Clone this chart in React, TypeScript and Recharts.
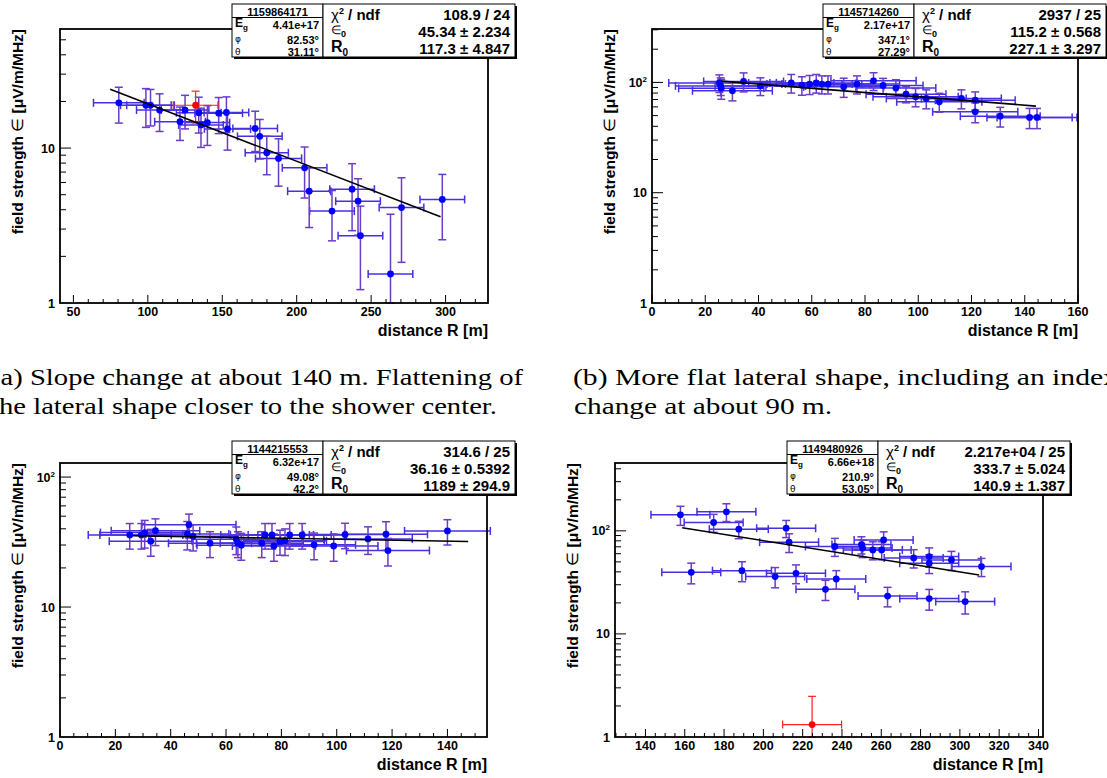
import React from 'react';
import { ScatterChart, Scatter, XAxis, YAxis, ErrorBar } from 'recharts';

const W = 1107;
const H = 778;
const SANS = '"Liberation Sans", Arial, Helvetica, sans-serif';
const SERIF = '"Liberation Serif", "Times New Roman", serif';
const GREEK = '"DejaVu Sans", "Liberation Sans", sans-serif';

// ---- (a) event 1159864171 ----
const aR = [80.5, 98.7, 101.8, 107.9, 121.6, 125.0, 134.2, 135.7, 140.0, 147.6, 152.8, 153.5, 172.1, 175.2, 179.9, 187.8, 205.3, 208.4, 223.7, 237.2, 241.2, 242.8, 263.0, 270.4, 297.8];
const aE = [19.6, 18.9, 18.9, 17.6, 14.8, 17.6, 16.9, 14.1, 14.6, 16.8, 17.0, 13.3, 13.4, 11.9, 9.33, 8.58, 7.46, 5.27, 3.92, 5.43, 4.54, 2.72, 1.54, 4.13, 4.66];
const aRErr = [17, 17, 16, 15.5, 17, 16, 15, 15, 15, 16, 15, 15.5, 15, 15, 14.5, 15.5, 15, 14.5, 15, 15, 15, 15, 15, 15, 15];
const aEErr = [5.1, 5.3, 5.0, 4.8, 3.6, 4.3, 4.4, 4.0, 4.2, 4.4, 4.4, 3.6, 3.9, 3.4, 2.6, 2.9, 2.7, 2.2, 1.4, 2.5, 1.8, 1.5, 2.2, 2.3, 2.1];
const aRedR = [132.1];
const aRedE = [18.9];
const aRedRErr = [15];
const aRedEErr = [4.4];
const aFitR = [74.7, 296.6];
const aFitE = [24.0, 3.6];

// ---- (b) event 1145714260 ----
const bR = [25.3, 25.8, 26.0, 30.2, 34.4, 40.7, 52.3, 56.3, 59.2, 61.7, 63.8, 66.1, 72.0, 77.0, 83.2, 86.8, 91.6, 95.4, 99.0, 103.0, 107.9, 116.2, 121.4, 121.4, 130.8, 141.8, 144.6];
const bE = [99, 93, 88.3, 84, 102, 93, 99, 94.5, 96.6, 99, 96.6, 96.6, 91.2, 96.6, 103.4, 93.8, 88.8, 78.3, 74.1, 71.6, 66.7, 71.6, 69, 54.1, 49.4, 48.1, 48.1];
const bRErr = [19, 17, 16, 15, 15, 17, 16, 15, 16, 15, 15, 16, 15, 16, 16, 15, 15, 15, 16, 15, 16, 15, 15, 16, 15, 16, 15];
const bEErr = [18, 17, 18, 16, 20, 17, 19, 18, 19, 19, 18, 18, 18, 18, 19, 15, 17, 13, 14, 14, 13, 14, 13, 11, 10, 10, 10];
const bFitR = [26.1, 144.2];
const bFitE = [102.7, 61.0];

// ---- (c) event 1144215553 ----
const cR = [25.2, 29.4, 30.6, 32.8, 34.5, 46.0, 46.6, 48.1, 54.2, 63.7, 64.3, 65.5, 72.9, 74.1, 76.6, 77.3, 79.5, 81.3, 83.0, 87.5, 91.8, 98.9, 103.0, 111.3, 117.8, 118.5, 140.0];
const cE = [35.9, 35.9, 37.4, 32.1, 38.7, 36.5, 42.9, 35.0, 31.0, 33.3, 31.0, 29.9, 31.0, 35.9, 35.9, 29.5, 32.0, 32.4, 35.9, 35.9, 30.1, 29.5, 36.1, 33.4, 36.3, 27.2, 38.5];
const cRErr = [15, 15, 16, 15, 16, 15, 17, 16, 15, 16, 15, 16, 15, 16, 15, 15, 16, 15, 15, 16, 15, 16, 15, 16, 15, 15, 15.5];
const cEErr = [8, 8, 9, 7.5, 9, 9, 9, 8, 7, 8, 7, 7, 7, 8, 8, 7, 7, 7.5, 8, 8, 7, 7, 8, 8, 9, 6.5, 8.5];
const cFitR = [26.4, 147.5];
const cFitE = [35.4, 31.9];

// ---- (d) event 1149480926 ----
const dR = [157.8, 163.3, 174.7, 181.2, 187.5, 189.1, 206.0, 211.6, 213.1, 216.6, 231.6, 236.4, 237.1, 249.9, 250.5, 255.7, 260.2, 261.2, 263.2, 276.5, 284.4, 284.4, 284.4, 295.7, 302.7, 311.0];
const dE = [143, 39.6, 120.5, 153, 103.8, 41.1, 36, 106, 77.6, 38.7, 27.1, 70.5, 34.1, 73.6, 68, 65.3, 65.3, 81.7, 23.3, 54.6, 56.3, 48.5, 22, 52.2, 20.6, 45];
const dRErr = [15, 15, 15, 15, 15, 15, 15, 15, 15, 15, 15, 15, 15, 15, 15, 15, 15, 15, 15, 15, 15, 15, 15, 15, 15, 15];
const dEErr = [30, 9, 24, 30, 20, 9, 8, 20, 16, 8, 6, 14, 7, 14, 13, 13, 13, 16, 5, 11, 12, 10, 5, 11, 5, 9];
const dRedR = [224.8];
const dRedE = [1.32];
const dRedRErr = [15];
const dRedEErr = [1.16];
const dFitR = [158.7, 309.8];
const dFitE = [107, 37.3];

// stats boxes
const aStats = { id: '1159864171', eg: '4.41e+17', phi: '82.53°', theta: '31.11°', chi: '108.9 / 24', eps: '45.34 ± 2.234', r0: '117.3 ± 4.847' };
const bStats = { id: '1145714260', eg: '2.17e+17', phi: '347.1°', theta: '27.29°', chi: '2937 / 25', eps: '115.2 ± 0.568', r0: '227.1 ± 3.297' };
const cStats = { id: '1144215553', eg: '6.32e+17', phi: '49.08°', theta: '42.2°', chi: '314.6 / 25', eps: '36.16 ± 0.5392', r0: '1189 ± 294.9' };
const dStats = { id: '1149480926', eg: '6.66e+18', phi: '210.9°', theta: '53.05°', chi: '2.217e+04 / 25', eps: '333.7 ± 5.024', r0: '140.9 ± 1.387' };

const range = (a: number, b: number, s: number) => {
  const out: number[] = [];
  for (let v = a; v <= b + 1e-9; v += s) out.push(v);
  return out;
};
const LOG_TICKS = [1, 2, 3, 4, 5, 6, 7, 8, 9, 10, 20, 30, 40, 50, 60, 70, 80, 90, 100, 200, 300, 400];

const toPts = (r: number[], e: number[], rErr: number[], eErr: number[]) =>
  r.map((x, i) => ({
    x,
    y: e[i],
    ex: rErr[i],
    // bars that would run under the axis stop at the frame
    ey: e[i] - eErr[i] <= 1 ? [e[i] - 1, eErr[i]] : eErr[i],
  }));
const toLine = (r: number[], e: number[]) => r.map((x, i) => ({ x, y: e[i] }));

type Rect = { x: number; y: number; w: number; h: number };

const makeXTick = (majors: number[]) => (p: any) => {
  const { x, y, payload } = p;
  const v = payload.value;
  const major = majors.includes(v);
  return (
    <g>
      <line x1={x} x2={x} y1={y} y2={y - (major ? 8 : 4)} stroke="#000" strokeWidth={1} />
      {major && (
        <text x={x} y={y + 13} textAnchor="middle" fontFamily={SANS} fontWeight="bold" fontSize={12.5} fill="#000">
          {v}
        </text>
      )}
    </g>
  );
};

const YTick = (p: any) => {
  const { x, y, payload } = p;
  const v = payload.value;
  const major = v === 10 || v === 100;
  const t = { x: x - 5, y: y + 4.5, textAnchor: 'end' as const, fontFamily: SANS, fontWeight: 'bold', fontSize: 12.5, fill: '#000' };
  return (
    <g>
      {v !== 1 && <line x1={x} x2={x + (major ? 11 : 6)} y1={y} y2={y} stroke="#000" strokeWidth={1} />}
      {v === 1 && <text {...t}>1</text>}
      {v === 10 && <text {...t}>10</text>}
      {v === 100 && (
        <text {...t}>
          10<tspan dy={-5} fontSize={8}>2</tspan>
        </text>
      )}
    </g>
  );
};

const Dot = (color: string) => (p: any) => <circle cx={p.cx} cy={p.cy} r={3.4} fill={color} />;

function Panel(props: {
  plot: Rect;
  xDomain: [number, number];
  yDomain: [number, number];
  xTicks: number[];
  xMajor: number[];
  pts: any[];
  red?: any[];
  fit: any[];
}) {
  const { plot, xDomain, yDomain, xTicks, xMajor, pts, red, fit } = props;
  const yTicks = LOG_TICKS.filter((v) => v <= yDomain[1]);
  return (
    <div style={{ position: 'absolute', left: 0, top: 0 }}>
      <ScatterChart
        width={W}
        height={H}
        margin={{ top: plot.y, left: plot.x - 1, right: W - plot.x - plot.w, bottom: H - plot.y - plot.h - 1 }}
      >
        <XAxis
          type="number"
          dataKey="x"
          domain={xDomain}
          allowDataOverflow
          ticks={xTicks}
          interval={0}
          tick={makeXTick(xMajor)}
          tickLine={false}
          axisLine={false}
          tickSize={0}
          tickMargin={0}
          height={1}
        />
        <YAxis
          type="number"
          dataKey="y"
          scale="log"
          domain={yDomain}
          allowDataOverflow
          ticks={yTicks}
          interval={0}
          tick={YTick}
          tickLine={false}
          axisLine={false}
          tickSize={0}
          tickMargin={0}
          width={1}
        />
        <Scatter data={pts} isAnimationActive={false} shape={Dot('#0000ff')}>
          <ErrorBar dataKey="ex" direction="x" width={4} stroke="#4630e0" strokeWidth={1.5} />
          <ErrorBar dataKey="ey" direction="y" width={4} stroke="#6a3cc8" strokeWidth={1.5} />
        </Scatter>
        {red && (
          <Scatter data={red} isAnimationActive={false} shape={Dot('#ff0000')}>
            <ErrorBar dataKey="ex" direction="x" width={4} stroke="#ff2020" strokeWidth={1.2} />
            <ErrorBar dataKey="ey" direction="y" width={4} stroke="#ff2020" strokeWidth={1.2} />
          </Scatter>
        )}
        <Scatter
          data={fit}
          isAnimationActive={false}
          shape={() => <g />}
          line={{ stroke: '#000', strokeWidth: 1.6 }}
        />
      </ScatterChart>
    </div>
  );
}

function Titles({ plot }: { plot: Rect }) {
  return (
    <g fontFamily={SANS} fontWeight="bold" fill="#000">
      <rect x={plot.x} y={plot.y} width={plot.w} height={plot.h} fill="none" stroke="#000" strokeWidth={1.8} />
      <text x={plot.x + plot.w} y={plot.y + plot.h + 33} textAnchor="end" fontSize={16}>
        distance R [m]
      </text>
      <text transform={`translate(${plot.x - 37}, ${plot.y}) rotate(-90)`} textAnchor="end" fontSize={15.5}>
        field strength <tspan fontWeight="normal">∈</tspan> [μV/m/MHz]
      </text>
    </g>
  );
}

function StatBox({ x, y, s }: { x: number; y: number; s: typeof aStats }) {
  const lw = 91;
  const rw = 192;
  const h = 53;
  const rx = x + lw;
  return (
    <g fontFamily={SANS} fill="#000">
      <rect x={x + 2} y={y + 2} width={lw} height={h} fill="#000" />
      <rect x={x} y={y} width={lw} height={h} fill="#fff" stroke="#000" strokeWidth={1} />
      <line x1={x} x2={x + lw} y1={y + 13.5} y2={y + 13.5} stroke="#000" strokeWidth={1} />
      <text x={x + lw / 2} y={y + 11.5} textAnchor="middle" fontWeight="bold" fontSize={11}>
        {s.id}
      </text>
      <text x={x + 3} y={y + 23} fontWeight="bold" fontSize={12}>
        E<tspan dy={3} fontSize={8}>g</tspan>
      </text>
      <text x={x + lw - 4} y={y + 24.5} textAnchor="end" fontWeight="bold" fontSize={11}>
        {s.eg}
      </text>
      <text x={x + 3} y={y + 38} fontFamily={GREEK} fontSize={9} fill="#000">
        φ
      </text>
      <text x={x + lw - 4} y={y + 39.5} textAnchor="end" fontWeight="bold" fontSize={11}>
        {s.phi}
      </text>
      <text x={x + 3} y={y + 51} fontFamily={GREEK} fontSize={9} fill="#000">
        θ
      </text>
      <text x={x + lw - 4} y={y + 51.5} textAnchor="end" fontWeight="bold" fontSize={11}>
        {s.theta}
      </text>

      <rect x={rx + 2} y={y + 2} width={rw} height={h} fill="#000" />
      <rect x={rx} y={y} width={rw} height={h} fill="#fff" stroke="#000" strokeWidth={1} />
      <text x={rx + 8} y={y + 16} fontWeight="bold" fontSize={15}>
        <tspan fontWeight="normal">χ</tspan>
        <tspan dy={-6} fontSize={9}>2</tspan>
        <tspan dy={6}> / ndf</tspan>
      </text>
      <text x={rx + rw - 5} y={y + 16} textAnchor="end" fontWeight="bold" fontSize={15}>
        {s.chi}
      </text>
      <text x={rx + 8} y={y + 30} fontSize={12}>
        ∈<tspan dy={3} fontSize={9} fontWeight="bold">0</tspan>
      </text>
      <text x={rx + rw - 5} y={y + 33} textAnchor="end" fontWeight="bold" fontSize={15}>
        {s.eps}
      </text>
      <text x={rx + 8} y={y + 48} fontWeight="bold" fontSize={16}>
        R<tspan dy={4} fontSize={10}>0</tspan>
      </text>
      <text x={rx + rw - 5} y={y + 50} textAnchor="end" fontWeight="bold" fontSize={15}>
        {s.r0}
      </text>
    </g>
  );
}

const A_PLOT = { x: 60, y: 29, w: 428, h: 274 };
const B_PLOT = { x: 652, y: 29, w: 426, h: 274 };
const C_PLOT = { x: 60, y: 463, w: 427, h: 274 };
const D_PLOT = { x: 615, y: 463, w: 428, h: 274 };

export default function App() {
  return (
    <div style={{ position: 'absolute', left: 0, top: 0, width: W, height: H, background: '#fff', overflow: 'hidden' }}>
      <Panel
        plot={A_PLOT}
        xDomain={[41, 328.5]}
        yDomain={[1, 58.7]}
        xTicks={range(50, 320, 10)}
        xMajor={[50, 100, 150, 200, 250, 300]}
        pts={toPts(aR, aE, aRErr, aEErr)}
        red={toPts(aRedR, aRedE, aRedRErr, aRedEErr)}
        fit={toLine(aFitR, aFitE)}
      />
      <Panel
        plot={B_PLOT}
        xDomain={[0, 160]}
        yDomain={[1, 305]}
        xTicks={range(0, 160, 5)}
        xMajor={[0, 20, 40, 60, 80, 100, 120, 140, 160]}
        pts={toPts(bR, bE, bRErr, bEErr)}
        fit={toLine(bFitR, bFitE)}
      />
      <Panel
        plot={C_PLOT}
        xDomain={[0, 154.3]}
        yDomain={[1, 128.3]}
        xTicks={range(0, 150, 5)}
        xMajor={[0, 20, 40, 60, 80, 100, 120, 140]}
        pts={toPts(cR, cE, cRErr, cEErr)}
        fit={toLine(cFitR, cFitE)}
      />
      <Panel
        plot={D_PLOT}
        xDomain={[124.5, 342.3]}
        yDomain={[1, 455]}
        xTicks={range(125, 340, 5)}
        xMajor={[140, 160, 180, 200, 220, 240, 260, 280, 300, 320, 340]}
        pts={toPts(dR, dE, dRErr, dEErr)}
        red={toPts(dRedR, dRedE, dRedRErr, dRedEErr)}
        fit={toLine(dFitR, dFitE)}
      />
      <svg width={W} height={H} style={{ position: 'absolute', left: 0, top: 0, pointerEvents: 'none' }}>
        <Titles plot={A_PLOT} />
        <Titles plot={B_PLOT} />
        <Titles plot={C_PLOT} />
        <Titles plot={D_PLOT} />
        <StatBox x={232} y={4} s={aStats} />
        <StatBox x={823} y={4} s={bStats} />
        <StatBox x={232} y={441} s={cStats} />
        <StatBox x={787} y={441} s={dStats} />
        <g fontFamily={SERIF} fontSize={24} fill="#000">
          <text x={-9} y={385} textLength={532} lengthAdjust="spacingAndGlyphs">
            (a) Slope change at about 140 m. Flattening of
          </text>
          <text x={-9} y={414} textLength={506} lengthAdjust="spacingAndGlyphs">
            the lateral shape closer to the shower center.
          </text>
          <text x={573} y={385} textLength={545} lengthAdjust="spacingAndGlyphs">
            (b) More flat lateral shape, including an index
          </text>
          <text x={574} y={414} textLength={258} lengthAdjust="spacingAndGlyphs">
            change at about 90 m.
          </text>
        </g>
      </svg>
    </div>
  );
}
